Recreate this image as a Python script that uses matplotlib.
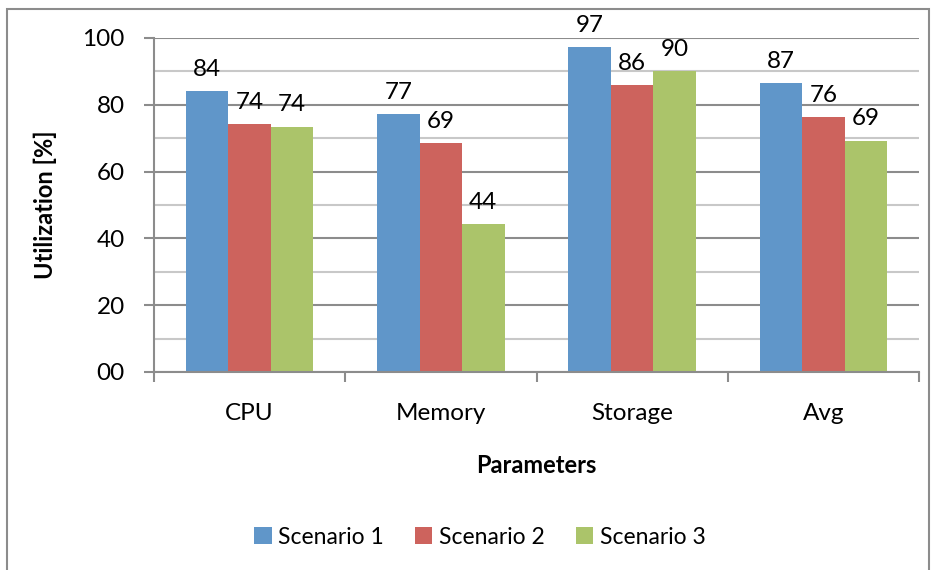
import matplotlib
matplotlib.use("Agg")
import matplotlib.pyplot as plt
import numpy as np
from matplotlib.ticker import MultipleLocator, FormatStrFormatter, FixedLocator
from matplotlib.patches import Rectangle

plt.rcParams['font.family'] = ['Lato', 'DejaVu Sans']

categories = ["CPU", "Memory", "Storage", "Avg"]
series_names = ["Scenario 1", "Scenario 2", "Scenario 3"]
scenario1 = [84.1, 77.3, 97.3, 86.6]
scenario2 = [74.2, 68.6, 85.9, 76.2]
scenario3 = [73.5, 44.3, 90.2, 69.3]
colors = ["#6096c9", "#cd635d", "#abc46a"]

fig = plt.figure(figsize=(9.36, 5.70), dpi=100)
ax = fig.add_axes([154/936, 1 - 372/570, 765/936, 334/570])

# outer chart frame
fig.patches.append(Rectangle((7/936, -0.02), 922/936, 1 - 9/570 + 0.02,
                             transform=fig.transFigure, fill=False,
                             edgecolor="#8c8c8c", lw=1.5))

x = np.arange(len(categories))
w = 0.222
for i, (vals, name) in enumerate(zip([scenario1, scenario2, scenario3], series_names)):
    pos = x + (i - 1) * w
    bars = ax.bar(pos, vals, w, color=colors[i], label=name, zorder=3)
    for b, v in zip(bars, vals):
        ax.annotate("%d" % round(v), (b.get_x() + b.get_width()/2, v),
                    xytext=(0, 8), textcoords="offset points",
                    ha="center", va="bottom", fontsize=17.5)

ax.set_xlim(-0.5, len(categories) - 0.5)
ax.set_ylim(0, 100)
ax.yaxis.set_major_locator(MultipleLocator(20))
ax.yaxis.set_minor_locator(MultipleLocator(10))
ax.yaxis.set_major_formatter(FormatStrFormatter("%02d"))
ax.grid(which="major", axis="y", color="#8c8c8c", lw=1.5, zorder=0)
ax.grid(which="minor", axis="y", color="#c8c8c8", lw=1.5, zorder=0)

ax.set_xticks(x)
ax.set_xticklabels(categories)
ax.xaxis.set_minor_locator(FixedLocator(np.arange(-0.5, len(categories), 1)))
ax.tick_params(axis="x", which="major", length=0, pad=22, labelsize=17.5)
ax.tick_params(axis="x", which="minor", length=7, width=1.5, color="#8c8c8c")
ax.tick_params(axis="y", which="major", length=7, width=1.5, color="#8c8c8c",
               labelsize=17.5, pad=14)
ax.tick_params(axis="y", which="minor", length=0)

for s in ["top", "right"]:
    ax.spines[s].set_visible(False)
for s in ["left", "bottom"]:
    ax.spines[s].set_color("#8c8c8c")
    ax.spines[s].set_linewidth(1.5)
    ax.spines[s].set_zorder(4)

ax.set_ylabel("Utilization [%]", fontsize=17, fontweight="bold", labelpad=18)
ax.set_xlabel("Parameters", fontsize=17, fontweight="bold", labelpad=22)

fig.legend(loc="center", bbox_to_anchor=(480/936, 1 - 537/570), ncol=3,
           frameon=False, fontsize=16.5, handlelength=0.75, handleheight=0.75,
           handletextpad=0.3, columnspacing=1.35)

fig.savefig("out.png", dpi=100)
